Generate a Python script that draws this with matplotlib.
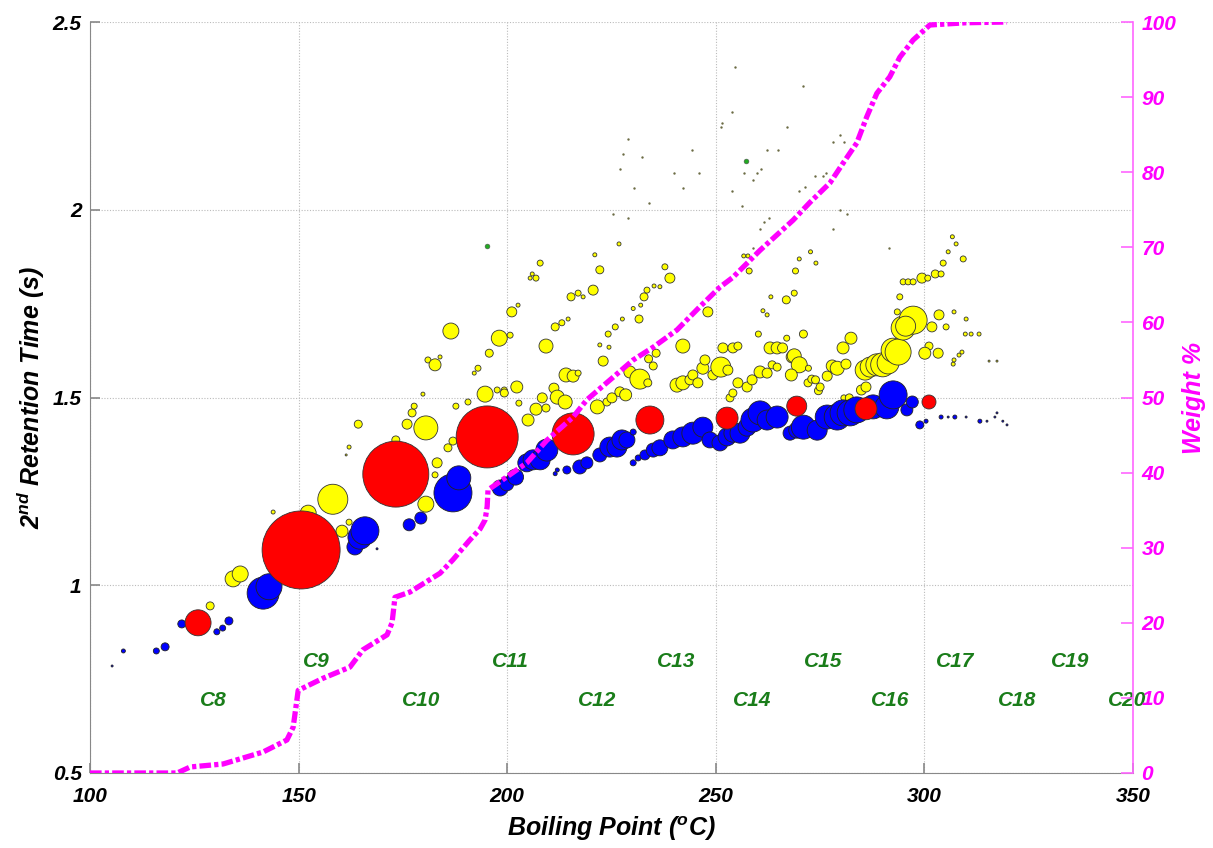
import matplotlib
matplotlib.use("Agg")
import matplotlib.pyplot as plt
from matplotlib import font_manager
import numpy as np

names = {f.name for f in font_manager.fontManager.ttflist}
narrow = "Liberation Sans Narrow" if "Liberation Sans Narrow" in names else "Liberation Sans"
plt.rcParams["font.family"] = [narrow, "DejaVu Sans"]
plt.rcParams["font.weight"] = "bold"
plt.rcParams["font.style"] = "italic"
plt.rcParams["axes.labelweight"] = "bold"
plt.rcParams["mathtext.fontset"] = "custom"
plt.rcParams["mathtext.rm"] = narrow + ":bold:italic"
plt.rcParams["mathtext.it"] = narrow + ":bold:italic"
plt.rcParams["mathtext.bf"] = narrow + ":bold:italic"

# ---- data ----
# n-alkanes (red)
red_bp = [125.9, 150.6, 173.3, 195.2, 215.8, 234.2, 252.7, 269.4, 286.0, 301.1]
red_rt = [0.90, 1.094, 1.296, 1.395, 1.403, 1.44, 1.445, 1.477, 1.47, 1.488]
red_vol = [13, 39, 33, 31, 21, 14, 11, 10, 11, 7]

# branched / cyclo (blue)
blue_bp = [105.3, 108.0, 115.9, 118.0, 122.0, 130.4, 131.8, 133.3, 141.5, 142.9,
           163.5, 164.7, 165.9, 168.8, 176.5, 179.3, 187.0, 188.4, 198.3, 199.9,
           202.0, 204.7, 206.2, 207.9, 209.5, 211.5, 212.0, 214.3, 217.4, 219.1,
           222.2, 224.6, 226.3, 227.5, 228.7, 230.2, 230.2, 231.4, 233.0, 235.0,
           236.6, 239.7, 242.1, 244.5, 246.9, 248.6, 251.0, 252.7, 254.1, 255.8,
           257.5, 258.9, 260.6, 262.3, 264.7, 267.8, 269.4, 271.0, 274.3, 276.7,
           279.1, 280.5, 282.2, 283.8, 287.7, 291.0, 292.5, 295.8, 297.1, 298.9,
           300.4, 304.0, 305.7, 307.3, 310.0, 313.3, 315.0, 316.9, 317.4, 318.8, 319.8]
blue_rt = [0.785, 0.825, 0.825, 0.836, 0.897, 0.876, 0.886, 0.905, 0.979, 0.996,
           1.102, 1.128, 1.145, 1.097, 1.161, 1.179, 1.246, 1.286, 1.259, 1.27,
           1.288, 1.326, 1.334, 1.334, 1.36, 1.297, 1.307, 1.307, 1.315, 1.326,
           1.347, 1.368, 1.368, 1.387, 1.387, 1.408, 1.326, 1.339, 1.347, 1.36,
           1.366, 1.387, 1.395, 1.405, 1.421, 1.387, 1.379, 1.395, 1.405, 1.405,
           1.421, 1.44, 1.459, 1.44, 1.448, 1.405, 1.413, 1.421, 1.413, 1.448,
           1.448, 1.459, 1.459, 1.467, 1.475, 1.475, 1.507, 1.467, 1.488, 1.427,
           1.437, 1.448, 1.448, 1.448, 1.448, 1.437, 1.437, 1.448, 1.459, 1.437, 1.427]
blue_vol = [1, 2, 3, 4, 4, 3, 3, 4, 16, 13,
            8, 12, 14, 1, 6, 6, 19, 12, 8, 7,
            8, 9, 10, 10, 11, 2, 2, 4, 7, 6,
            7, 10, 10, 10, 8, 3, 3, 3, 5, 7,
            8, 9, 10, 11, 10, 8, 8, 9, 9, 10,
            9, 12, 12, 10, 11, 7, 8, 12, 10, 12,
            13, 13, 13, 13, 12, 12, 14, 6, 6, 4,
            2, 2, 1, 2, 1, 2, 1, 1, 1, 1, 1]

# aromatics etc. (yellow)
yel_bp = [128.8, 134.3, 136.0, 143.9, 152.3, 158.2, 160.4, 162.1, 161.4, 162.1,
          164.3, 173.3, 180.5, 183.2, 182.7, 185.8, 187.0, 180.5, 176.0, 177.2,
          177.7, 179.8, 187.7, 190.6, 194.7, 197.6, 199.3,
          181.0, 182.7, 183.9, 186.5, 192.1, 193.0, 195.7, 198.1, 200.7, 201.1,
          202.6, 199.3, 202.3, 202.8, 205.0, 206.9, 208.4, 209.3, 211.2, 212.0,
          213.9, 209.3, 214.1, 215.8, 217.0, 211.5, 213.1, 214.6, 215.3, 217.0,
          218.2, 220.6, 221.6, 223.0, 223.9, 225.1, 227.0, 228.4, 229.4, 231.8,
          233.7, 233.9, 235.0, 235.7, 224.4, 222.2, 224.2, 225.9, 227.6, 231.6,
          230.2, 232.0, 232.8, 233.5, 235.2, 236.6, 237.8, 239.0, 222.2, 221.0,
          226.8, 207.9, 206.0, 206.9, 205.5,
          242.1, 240.7, 242.1, 243.8, 244.5, 245.7, 246.9, 247.4, 249.3, 251.2,
          252.9, 253.4, 254.1, 255.3, 257.5, 258.7, 260.6, 262.3, 263.5, 264.7,
          248.1, 251.7, 254.1, 255.3, 258.0, 261.3, 262.3, 260.2, 266.9, 263.0,
          264.7, 266.0, 267.0, 268.3,
          257.7, 256.7, 263.2, 268.8, 269.1, 270.0, 272.7, 274.0, 268.8, 270.0,
          268.1, 271.0, 272.2, 272.1, 273.0, 273.9, 274.6, 275.0, 276.7, 277.9,
          279.1, 281.2, 280.5, 282.4, 280.7, 282.0, 284.9, 286.0, 285.8, 287.0,
          288.6, 290.0, 291.3, 292.5, 293.7, 294.9, 297.3, 295.5, 293.5, 294.1,
          301.8, 303.5, 305.2, 301.1, 300.1, 303.3, 294.9, 296.1, 297.3, 299.4,
          300.8, 302.6, 304.0, 304.5, 305.7, 306.7, 307.6, 309.3, 307.1, 310.0,
          309.8, 311.2, 313.1, 306.9, 307.1, 308.3, 309.0, 315.5, 317.4]
yel_rt = [0.945, 1.017, 1.03, 1.195, 1.192, 1.229, 1.144, 1.168, 1.347, 1.368,
          1.429, 1.387, 1.216, 1.326, 1.294, 1.366, 1.384, 1.419, 1.429, 1.459,
          1.477, 1.509, 1.477, 1.488, 1.509, 1.52, 1.52,
          1.600, 1.587, 1.608, 1.677, 1.565, 1.578, 1.618, 1.658, 1.666, 1.728,
          1.746, 1.512, 1.528, 1.485, 1.44, 1.469, 1.499, 1.472, 1.525, 1.501,
          1.488, 1.637, 1.56, 1.557, 1.565, 1.688, 1.699, 1.709, 1.768, 1.778,
          1.768, 1.786, 1.475, 1.597, 1.488, 1.499, 1.515, 1.507, 1.568, 1.549,
          1.539, 1.603, 1.584, 1.618, 1.634, 1.64, 1.669, 1.688, 1.709, 1.709,
          1.737, 1.746, 1.768, 1.786, 1.797, 1.795, 1.848, 1.818, 1.84, 1.88,
          1.909, 1.858, 1.829, 1.818, 1.818,
          1.637, 1.533, 1.539, 1.547, 1.56, 1.539, 1.578, 1.6, 1.56, 1.581,
          1.573, 1.499, 1.512, 1.539, 1.528, 1.547, 1.568, 1.565, 1.587, 1.581,
          1.728, 1.632, 1.632, 1.637, 1.837, 1.731, 1.72, 1.669, 1.76, 1.632,
          1.632, 1.632, 1.658, 1.608,
          1.877, 1.877, 1.768, 1.778, 1.837, 1.869, 1.888, 1.858, 1.611, 1.587,
          1.56, 1.669, 1.578, 1.539, 1.549, 1.547, 1.518, 1.528, 1.557, 1.584,
          1.578, 1.589, 1.632, 1.658, 1.499, 1.499, 1.52, 1.528, 1.573, 1.581,
          1.587, 1.587, 1.592, 1.626, 1.621, 1.685, 1.706, 1.69, 1.728, 1.768,
          1.688, 1.72, 1.688, 1.637, 1.618, 1.618, 1.808, 1.808, 1.808, 1.818,
          1.818, 1.829, 1.829, 1.858, 1.888, 1.928, 1.909, 1.869, 1.728, 1.709,
          1.669, 1.669, 1.669, 1.589, 1.6, 1.613, 1.621, 1.597, 1.597]
yel_vol = [4, 8, 8, 2, 8, 15, 6, 3, 1, 2,
           4, 4, 8, 5, 3, 4, 4, 12, 5, 4,
           3, 2, 3, 3, 8, 3, 3,
           3, 6, 2, 8, 2, 3, 4, 8, 3, 5,
           2, 4, 6, 3, 6, 6, 5, 4, 5, 7,
           7, 7, 7, 6, 3, 4, 3, 2, 4, 3,
           2, 5, 7, 5, 4, 5, 5, 6, 6, 10,
           4, 4, 4, 4, 2, 2, 3, 3, 2, 4,
           2, 2, 4, 3, 2, 2, 3, 5, 4, 2,
           2, 3, 2, 3, 2,
           7, 7, 7, 5, 5, 5, 6, 5, 5, 10,
           5, 4, 4, 5, 5, 5, 6, 5, 4, 4,
           5, 5, 5, 4, 3, 2, 2, 3, 4, 6,
           6, 5, 3, 6,
           2, 2, 2, 3, 3, 2, 2, 2, 7, 8,
           6, 4, 3, 4, 4, 4, 4, 4, 5, 6,
           7, 5, 6, 6, 3, 4, 5, 5, 10, 10,
           11, 12, 11, 12, 13, 12, 14, 10, 3, 3,
           5, 5, 3, 4, 6, 5, 3, 3, 3, 5,
           3, 4, 3, 3, 2, 2, 2, 3, 2, 2,
           2, 2, 2, 2, 2, 2, 2, 1, 1]

# trace peaks (tiny dark dots) and polar peaks (green)
trace_bp = [244.3, 246.0, 240.0, 242.1, 254.6, 253.9, 251.5, 251.2, 253.9, 256.3,
            256.8, 258.9, 259.9, 260.8, 262.3, 264.9, 267.1, 270.9, 269.9, 271.4,
            273.8, 276.4, 275.7, 278.1, 279.8, 280.7, 279.8, 281.4, 278.1, 291.5,
            260.6, 261.6, 262.7, 258.9, 229.0, 227.8, 227.0, 230.4, 232.3, 234.0,
            229.0, 225.4]
trace_rt = [2.159, 2.098, 2.098, 2.058, 2.380, 2.260, 2.231, 2.220, 2.050, 2.010,
            2.098, 2.079, 2.098, 2.109, 2.159, 2.159, 2.220, 2.330, 2.050, 2.061,
            2.090, 2.098, 2.090, 2.180, 2.199, 2.180, 1.999, 1.989, 1.949, 1.898,
            1.949, 1.967, 1.978, 1.898, 2.188, 2.148, 2.109, 2.058, 2.140, 2.018,
            1.978, 1.989]
green_bp = [195.2, 257.2]
green_rt = [1.904, 2.13]

# cumulative weight % (right axis)
cum_bp = [100.0, 120.9, 124.0, 131.9, 141.5, 147.2, 148.7, 149.9, 155.8, 162.3,
          165.4, 171.2, 172.4, 173.1, 176.7, 183.9, 187.0, 191.0, 193.5, 194.7,
          195.2, 195.4, 197.5, 204.7, 209.5, 215.8, 219.1, 225.4, 230.2, 235.0,
          240.7, 246.2, 251.0, 254.1, 260.6, 268.5, 272.6, 277.4, 280.5, 283.8,
          286.2, 288.6, 291.7, 294.1, 297.3, 301.3, 310.0, 319.8]
cum_wt = [0.0, 0.0, 0.8, 1.2, 2.8, 4.4, 6.1, 11.0, 12.6, 14.1,
          16.4, 18.4, 20.0, 23.4, 24.1, 26.6, 28.4, 31.0, 32.5, 33.7,
          35.5, 37.7, 38.5, 41.3, 44.3, 47.4, 49.7, 52.7, 55.0, 56.7,
          59.0, 62.1, 64.7, 66.0, 69.6, 73.6, 76.0, 78.6, 81.2, 83.9,
          87.4, 90.5, 92.7, 95.3, 97.6, 99.6, 99.9, 100.0]

# carbon-number labels
cn_labels = ["C8", "C9", "C10", "C11", "C12", "C13", "C14", "C15", "C16", "C17", "C18", "C19", "C20"]
cn_bp = [129.5, 154.2, 179.3, 200.7, 221.5, 240.5, 258.7, 275.7, 291.7, 307.3, 322.2, 334.9, 348.6]
cn_rt = [0.694, 0.796, 0.694, 0.796, 0.694, 0.796, 0.694, 0.796, 0.694, 0.796, 0.694, 0.796, 0.694]


def bubble(v):
    return (2 * 0.72 * np.asarray(v, dtype=float)) ** 2


fig = plt.figure(figsize=(12.13, 8.48), dpi=100)
ax = fig.add_axes([90 / 1213, 75 / 848, 1043 / 1213, 751 / 848])

ax.scatter(trace_bp, trace_rt, s=3, c="#6b6b45", linewidths=0, zorder=2)
ax.scatter(yel_bp, yel_rt, s=bubble(yel_vol), c="#ffff00", edgecolors="#333333", linewidths=0.6, zorder=3)
ax.scatter(blue_bp, blue_rt, s=bubble(blue_vol), c="#0000ff", edgecolors="#222222", linewidths=0.6, zorder=4)
ax.scatter(red_bp, red_rt, s=bubble(red_vol), c="#ff0000", edgecolors="#333333", linewidths=0.6, zorder=5)
ax.scatter(green_bp, green_rt, s=12, c="#22aa22", edgecolors="#555555", linewidths=0.4, zorder=5)

for lab, x, y in zip(cn_labels, cn_bp, cn_rt):
    ax.text(x, y, lab, color="#1a7d1a", fontsize=15, fontweight="bold",
            ha="center", va="center", zorder=6)

ax.set_xlim(100, 350)
ax.set_ylim(0.5, 2.5)
ax.set_xticks([100, 150, 200, 250, 300, 350])
ax.set_yticks([0.5, 1, 1.5, 2, 2.5])
ax.set_yticklabels(["0.5", "1", "1.5", "2", "2.5"])
ax.grid(True, color="#bbbbbb", linestyle=(0, (1, 1.5)), linewidth=0.8)
ax.set_axisbelow(True)
ax.tick_params(direction="in", length=7, width=1.2, color="#888888", labelsize=15)
ax.tick_params(axis="x", pad=10)
ax.tick_params(axis="y", pad=6)
for side in ["left", "bottom"]:
    ax.spines[side].set_color("#888888")
ax.spines["top"].set_visible(False)
ax.spines["right"].set_visible(False)
ax.set_xlabel(r"Boiling Point ($^{o}$C)", fontsize=18, fontweight="bold", labelpad=6)
ax.set_ylabel(r"2$^{nd}$ Retention Time (s)", fontsize=18, fontweight="bold", labelpad=4)

ax2 = ax.twinx()
ax2.plot(cum_bp, cum_wt, color="#ff00ff", linewidth=3.8, linestyle=(0, (2.2, 0.6, 0.8, 0.6)), zorder=7)
ax2.set_ylim(0, 100)
ax2.set_yticks(np.arange(0, 101, 10))
ax2.tick_params(axis="y", direction="in", length=9, width=1.2, color="#ff66ff",
                labelcolor="#ff00ff", labelsize=15, pad=6)
for side in ["left", "bottom", "top"]:
    ax2.spines[side].set_visible(False)
ax2.spines["right"].set_color("#ff66ff")
ax2.spines["right"].set_linewidth(1.2)
ax2.set_ylabel("Weight %", color="#ff00ff", fontsize=18, fontweight="bold", labelpad=4)

fig.savefig("out.png", dpi=100)
